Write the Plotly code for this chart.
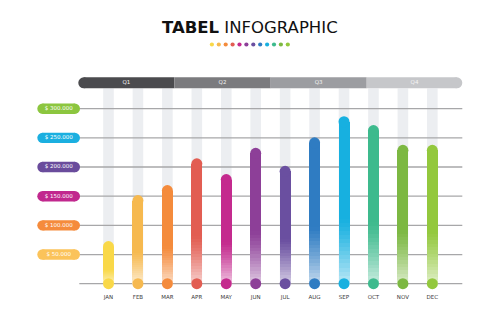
import plotly.graph_objects as go

# ---------------- data ----------------
months = ["JAN", "FEB", "MAR", "APR", "MAY", "JUN", "JUL", "AUG", "SEP", "OCT", "NOV", "DEC"]
values = [73000, 152000, 169000, 215000, 188000, 233000, 202000, 251000, 287000, 272000, 238000, 238000]
month_colors = ["#f9d848", "#f6b94f", "#f48b3c", "#e25d52", "#c42a8e", "#8d3f98",
                "#6a4fa0", "#2f7cc2", "#17b0e0", "#3dba8d", "#7cb842", "#93c83d"]
tick_values = [50000, 100000, 150000, 200000, 250000, 300000]
tick_labels = ["$ 50.000", "$ 100.000", "$ 150.000", "$ 200.000", "$ 250.000", "$ 300.000"]
tick_colors = ["#fbc35a", "#f58b3c", "#c1288e", "#6a4c9c", "#1bafe0", "#8cc63f"]
quarters = ["Q1", "Q2", "Q3", "Q4"]
quarter_colors = ["#4b4b4e", "#7b7b7e", "#9c9da1", "#c6c7ca"]

# ---------------- geometry (pixel <-> data) ----------------
W, H = 500, 334
X0, SX = 108.5, 29.44            # px of first month, px per month
Y0, VPP = 283.7, 50000 / 29.17   # px of zero line, value per px


def dx(px):
    return (px - X0) / SX


def dy(py):
    return (Y0 - py) * VPP


BAR_PX = 11
bar_w = BAR_PX / SX
r_val = BAR_PX / 2 * VPP


def mix(hexc, t):
    h = hexc.lstrip("#")
    r, g, b = int(h[0:2], 16), int(h[2:4], 16), int(h[4:6], 16)
    r = round(r + (255 - r) * t)
    g = round(g + (255 - g) * t)
    b = round(b + (255 - b) * t)
    return f"rgb({r},{g},{b})"


fig = go.Figure()
xs = list(range(len(months)))

# ---------- colored bars with gradient bottom ----------
FADE = 0.40
N = 16
body = [v - r_val for v in values]
fig.add_trace(go.Bar(x=xs, y=[b * (1 - FADE) for b in body], base=[b * FADE for b in body],
                     width=bar_w, marker=dict(color=month_colors, line=dict(width=0)),
                     hoverinfo="skip"))
for j in range(N):
    t = 0.72 * (1 - (j + 0.5) / N) ** 1.2
    fig.add_trace(go.Bar(
        x=xs,
        base=[b * FADE * j / N for b in body],
        y=[b * FADE / N * 1.02 for b in body],
        width=bar_w,
        marker=dict(color=[mix(c, t) for c in month_colors], line=dict(width=0)),
        hoverinfo="skip"))

# rounded tops
fig.add_trace(go.Scatter(x=xs, y=body, mode="markers",
                         marker=dict(size=BAR_PX, color=month_colors, line=dict(width=0)),
                         hoverinfo="skip"))
# bottom dots
fig.add_trace(go.Scatter(x=xs, y=[0] * len(xs), mode="markers",
                         marker=dict(size=BAR_PX, color=month_colors, line=dict(width=0)),
                         hoverinfo="skip"))

# month labels
fig.add_trace(go.Scatter(x=xs, y=[dy(297.5)] * len(xs), mode="text", text=months,
                         textfont=dict(size=5.5, color="#3a3a3a", family="DejaVu Sans"),
                         hoverinfo="skip"))

# ---------- value pills ----------
pill_l, pill_r, pill_h = 37.3, 80.0, 10.4
for v, lab, c in zip(tick_values, tick_labels, tick_colors):
    fig.add_trace(go.Scatter(x=[dx(pill_l + pill_h / 2), dx(pill_r - pill_h / 2)], y=[v, v],
                             mode="lines+markers", line=dict(color=c, width=pill_h),
                             marker=dict(size=pill_h, color=c, line=dict(width=0)),
                             hoverinfo="skip"))
fig.add_trace(go.Scatter(x=[dx((pill_l + pill_r) / 2)] * len(tick_values), y=tick_values,
                         mode="text", text=tick_labels,
                         textfont=dict(size=5.5, color="white", family="DejaVu Sans"),
                         hoverinfo="skip"))

# ---------- quarter header ----------
qb = [78.3, 174.3, 270.7, 366.7, 462.3]
hy = dy(82.8)
HH = 11
for i, (q, c) in enumerate(zip(quarters, quarter_colors)):
    a, b = qb[i], qb[i + 1]
    if i == 0:
        a += HH / 2
    if i == 3:
        b -= HH / 2
    fig.add_trace(go.Scatter(x=[dx(a), dx(b)], y=[hy, hy], mode="lines",
                             line=dict(color=c, width=HH), hoverinfo="skip"))
fig.add_trace(go.Scatter(x=[dx(qb[0] + HH / 2), dx(qb[4] - HH / 2)], y=[hy, hy], mode="markers",
                         marker=dict(size=HH, color=[quarter_colors[0], quarter_colors[3]],
                                     line=dict(width=0)), hoverinfo="skip"))
fig.add_trace(go.Scatter(x=[dx((qb[i] + qb[i + 1]) / 2) for i in range(4)], y=[hy] * 4,
                         mode="text", text=quarters,
                         textfont=dict(size=5.5, color="#f4f4f4", family="DejaVu Sans"),
                         hoverinfo="skip"))

# ---------- title dots ----------
dot_x0, dot_step = 211.9, 6.9
fig.add_trace(go.Scatter(x=[dx(dot_x0 + k * dot_step) for k in range(12)], y=[dy(44.5)] * 12,
                         mode="markers", marker=dict(size=4.2, color=month_colors, line=dict(width=0)),
                         hoverinfo="skip"))

# ---------- background columns and grid lines (shapes below traces) ----------
shapes = []
col_w = 10.6 / SX
for i in xs:
    shapes.append(dict(type="rect", layer="below", xref="x", yref="y",
                       x0=i - col_w / 2, x1=i + col_w / 2, y0=0, y1=dy(88.5),
                       fillcolor="#eceef1", line=dict(width=0)))
for v in [0] + tick_values:
    shapes.append(dict(type="line", layer="below", xref="x", yref="y",
                       x0=dx(79.3), x1=dx(462.3), y0=v, y1=v,
                       line=dict(color="#a7a7a9", width=1.3)))

fig.update_layout(
    width=W, height=H,
    margin=dict(l=0, r=0, t=0, b=0),
    paper_bgcolor="white", plot_bgcolor="white",
    showlegend=False, barmode="overlay", bargap=0,
    hovermode=False,
    xaxis=dict(range=[dx(0), dx(W)], visible=False, fixedrange=True),
    yaxis=dict(range=[dy(H), dy(0)], visible=False, fixedrange=True),
    shapes=shapes,
    annotations=[dict(
        text="<b>TABEL</b> INFOGRAPHIC", xref="paper", yref="paper",
        x=0.5, y=1 - 27 / H, xanchor="center", yanchor="middle", showarrow=False,
        font=dict(size=16.5, color="#111111", family="DejaVu Sans"))],
)

fig.write_html("out.html")
